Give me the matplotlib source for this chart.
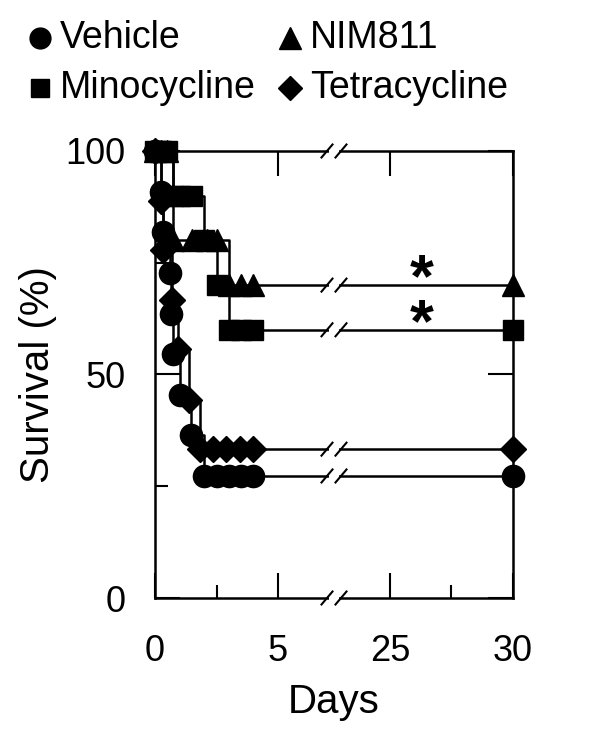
import matplotlib
matplotlib.use("Agg")
import matplotlib.pyplot as plt
from matplotlib.lines import Line2D

plt.rcParams["font.family"] = ["Liberation Sans", "DejaVu Sans"]

# observation days and survival (%) for each group
vehicle_days = [0, 0.25, 0.33, 0.6, 0.67, 0.75, 1.0, 1.45, 2.0, 2.5, 3.0, 3.5, 4.0, 30]
vehicle_surv = [100, 90.9, 81.8, 72.7, 63.6, 54.5, 45.5, 36.4, 27.3, 27.3, 27.3, 27.3, 27.3, 27.3]

nim_days = [0, 0.25, 0.5, 0.75, 1.5, 2.1, 2.5, 3.0, 3.5, 4.0, 30]
nim_surv = [100, 100, 100, 80, 80, 80, 80, 70, 70, 70, 70]

mino_days = [0, 0.25, 0.5, 0.75, 1.0, 1.5, 2.0, 2.5, 3.0, 3.5, 4.0, 30]
mino_surv = [100, 100, 100, 90, 90, 90, 80, 70, 60, 60, 60, 60]

tetra_days = [0, 0.25, 0.33, 0.7, 0.95, 1.4, 1.83, 2.37, 2.9, 3.45, 4.0, 30]
tetra_surv = [100, 88.9, 77.8, 66.7, 55.6, 44.4, 33.3, 33.3, 33.3, 33.3, 33.3, 33.3]

x_ticks = [0, 5, 25, 30]
y_ticks = [0, 50, 100]

GAP = 4.55  # axis units taken up by the 5-25 break


def tx(d):
    # squeeze the days axis: 0-5 as is, then a short gap, then 25-30
    return d if d <= 5 else d - 20 + GAP


fig = plt.figure(figsize=(6, 7.4), dpi=100)
ax = fig.add_axes([155 / 600, 1 - 598 / 740, 358 / 600, 447 / 740])
xmax = tx(30)
ax.set_xlim(0, xmax)
ax.set_ylim(0, 100)

px_x = xmax / 358.0
px_y = 100 / 447.0

series = [
    (vehicle_days, vehicle_surv, "o", 16),
    (tetra_days, tetra_surv, "D", 13),
    (mino_days, mino_surv, "s", 14),
    (nim_days, nim_surv, "^", 16),
]
for days, surv, mk, ms in series:
    xs = [tx(d) for d in days]
    ax.plot(xs, surv, color="black", lw=1.8, drawstyle="steps-post", clip_on=False, zorder=3)
    ax.plot(xs, surv, ls="none", marker=mk, ms=ms, color="black", clip_on=False, zorder=4)

# axis breaks
bx = [(327 - 155) * px_x, (341 - 155) * px_x]
for yv in [0, 100, 70, 60, 33.3, 27.3]:
    ax.plot([bx[0] + 2 * px_x, bx[1] - 2 * px_x], [yv, yv], color="white", lw=4,
            solid_capstyle="butt", clip_on=False, zorder=5)
    for b in bx:
        ax.plot([b - 5.5 * px_x, b + 5.5 * px_x], [yv - 6.5 * px_y, yv + 6.5 * px_y],
                color="black", lw=1.5, clip_on=False, zorder=6)

# significance marks for NIM811 and minocycline, stacked in one text
ax.text(tx(26.3), 66.0, "*\n*", fontsize=44, fontweight="bold", ha="center", va="center",
        linespacing=0.72)

for sp in ax.spines.values():
    sp.set_linewidth(1.8)

ax.set_xticks([tx(v) for v in x_ticks])
ax.set_xticklabels([str(v) for v in x_ticks])
ax.set_xticks([tx(2.5), tx(27.5)], minor=True)
ax.set_yticks(y_ticks)
ax.set_yticks([25, 75], minor=True)
ax.tick_params(which="major", direction="in", length=18, width=1.5, top=True, right=True,
               labelsize=26)
ax.tick_params(which="minor", direction="in", length=9.5, width=1.5, top=False, right=False)
ax.tick_params(axis="y", which="major", pad=21)
ax.tick_params(axis="x", which="major", pad=26)

ax.set_xlabel("Days", fontsize=29, labelpad=10)
ax.set_ylabel("Survival (%)", fontsize=29, labelpad=6)

# legend drawn by hand
entries = [
    (40, 38, "o", 15, "Vehicle"),
    (290, 38, "^", 16, "NIM811"),
    (40, 88, "s", 13, "Minocycline"),
    (290, 88, "D", 12, "Tetracycline"),
]
for x, y, mk, ms, label in entries:
    fig.add_artist(Line2D([x / 600], [1 - y / 740], marker=mk, ms=ms, color="black",
                          ls="none", transform=fig.transFigure))
    fig.text((x + 20) / 600, 1 - y / 740, label, fontsize=27, va="center", ha="left")

fig.savefig("out.png", dpi=100)
